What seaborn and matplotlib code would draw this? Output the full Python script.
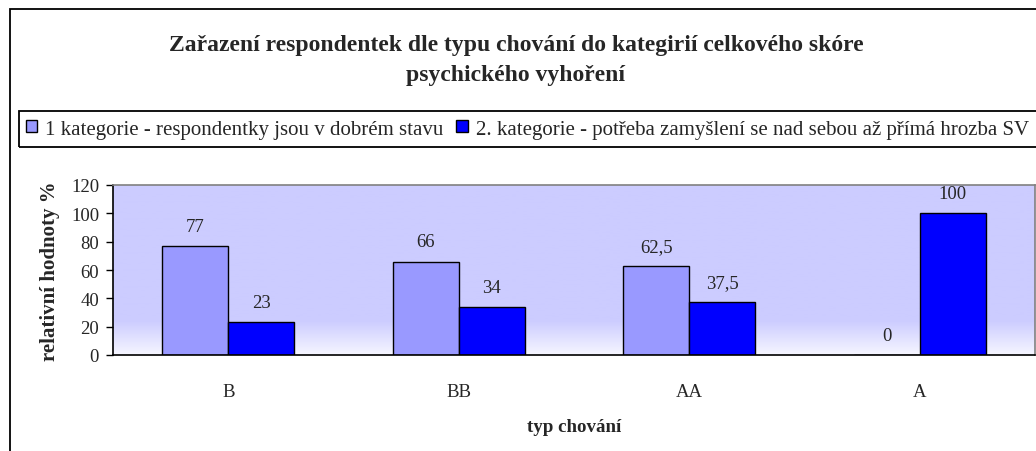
import numpy as np
import pandas as pd
import seaborn as sns
import matplotlib.pyplot as plt
from matplotlib.patches import Patch, Rectangle

# data
kategorie = ["B", "BB", "AA", "A"]
serie = ["1 kategorie - respondentky jsou v dobrém stavu",
         "2. kategorie - potřeba zamyšlení se nad sebou až přímá hrozba SV"]
hodnoty_1 = [77, 66, 62.5, 0]
hodnoty_2 = [23, 34, 37.5, 100]
popisky_1 = ["77", "66", "62,5", "0"]
popisky_2 = ["23", "34", "37,5", "100"]
barvy = ["#9999FF", "#0000FF"]

df = pd.DataFrame({
    "typ": kategorie * 2,
    "serie": [serie[0]] * 4 + [serie[1]] * 4,
    "hodnota": hodnoty_1 + hodnoty_2,
})

sns.set_theme(style="white")
plt.rcParams["font.family"] = ["Liberation Serif", "DejaVu Serif"]

W, H = 1036, 452
fig = plt.figure(figsize=(W / 100, H / 100), dpi=100)

# outer chart border (cut off on the right/bottom like the original)
fig.patches.append(Rectangle((9.5 / W, -0.1), 1.2, 1 - 10 / H + 0.1,
                             transform=fig.transFigure, fill=False,
                             edgecolor="black", linewidth=1.3))

fig.text(516 / W, 1 - 45 / H,
         "Zařazení respondentek dle typu chování do kategirií celkového skóre",
         ha="center", va="center", fontsize=17, fontweight="bold")
fig.text(516 / W, 1 - 76 / H, "psychického vyhoření",
         ha="center", va="center", fontsize=17, fontweight="bold")

ax = fig.add_axes([113 / W, 1 - 356 / H, (1035 - 113) / W, (356 - 186) / H])

# plot-area gradient (lavender fading to white at the bottom)
f = np.linspace(0, 1, 200)
mix = np.clip(f / 0.2, 0, 1)
top = np.array([0xCC, 0xCC, 0xFF]) / 255
bot = np.array([0xF6, 0xF6, 0xFF]) / 255
grad = (bot[None, :] * (1 - mix[:, None]) + top[None, :] * mix[:, None])[:, None, :]
ax.imshow(grad, extent=[-0.5, 3.5, 0, 120], origin="lower", aspect="auto", zorder=0)

sns.barplot(data=df, x="typ", y="hodnota", hue="serie", palette=barvy,
            width=0.573, edgecolor="black", linewidth=1.0, saturation=1,
            legend=False, ax=ax, zorder=2)

for cont, lab in zip(ax.containers, [popisky_1, popisky_2]):
    ax.bar_label(cont, labels=lab, padding=8, fontsize=13.5)

ax.set_xlim(-0.5, 3.5)
ax.set_ylim(0, 120)
ax.set_yticks(range(0, 121, 20))
ax.set_xticks(range(4))
ax.set_xticks([-0.5, 0.5, 1.5, 2.5, 3.5], minor=True)
ax.tick_params(axis="x", which="major", length=0, pad=20, labelsize=13.5)
ax.tick_params(axis="x", which="minor", length=5, width=1, direction="out", color="black")
ax.tick_params(axis="y", length=5, width=1, direction="out", pad=5, labelsize=13.5, color="black")
ax.tick_params(left=True, bottom=True)

for s in ["left", "bottom"]:
    ax.spines[s].set_color("black")
    ax.spines[s].set_linewidth(1.2)
for s in ["top", "right"]:
    ax.spines[s].set_color("#808080")
    ax.spines[s].set_linewidth(1.2)

ax.set_xlabel("typ chování", fontsize=13.6, fontweight="bold", labelpad=13)
ax.set_ylabel("relativní hodnoty %", fontsize=15, fontweight="bold", labelpad=8)

# legend box running off the right edge
fig.patches.append(Rectangle((19 / W, 1 - 148 / H), 1.2, 36 / H,
                             transform=fig.transFigure, fill=False,
                             edgecolor="black", linewidth=1.3))
handles = [Patch(facecolor=c, edgecolor="black", linewidth=1) for c in barvy]
fig.legend(handles, serie, loc="center left", bbox_to_anchor=(26 / W, 1 - 130 / H),
           ncol=2, frameon=False, fontsize=15, handlelength=0.55, handleheight=0.55,
           handletextpad=0.38, columnspacing=0.6, borderpad=0, borderaxespad=0)

fig.savefig("out.png", dpi=100)
